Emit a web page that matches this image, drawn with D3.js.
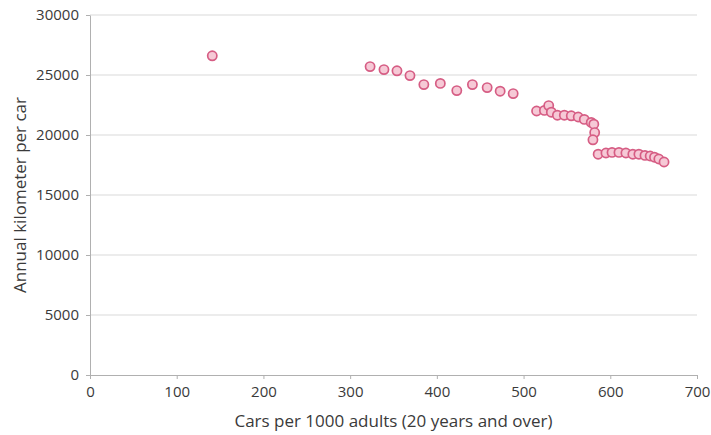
<!DOCTYPE html>
<html>
<head>
<meta charset="utf-8">
<script src="https://cdn.jsdelivr.net/npm/d3@7/dist/d3.min.js"></script>
<style>
  html, body { margin: 0; padding: 0; background: #ffffff; }
  svg { display: block; }
  text { font-family: "Open Sans", sans-serif; fill: #3a3a3a; }
</style>
</head>
<body>
<svg id="chart" width="711" height="435"></svg>
<script>
// ---- data ----
const carsPerThousand = [141, 323, 339, 354, 369, 385, 404, 423, 441, 458, 473, 488,
  515, 524, 529, 532, 539, 547, 555, 563, 570, 578, 581, 582, 580,
  586, 595, 602, 610, 618, 626, 633, 640, 646, 651, 656, 662];
const kmPerCar = [26600, 25700, 25450, 25350, 24950, 24200, 24300, 23700, 24200, 23950, 23650, 23450,
  22000, 22050, 22450, 21900, 21650, 21650, 21600, 21500, 21300, 21050, 20900, 20200, 19600,
  18400, 18500, 18550, 18550, 18500, 18400, 18400, 18300, 18250, 18150, 18000, 17750];
const xTickValues = [0, 100, 200, 300, 400, 500, 600, 700];
const yTickValues = [0, 5000, 10000, 15000, 20000, 25000, 30000];
const xTitle = "Cars per 1000 adults (20 years and over)";
const yTitle = "Annual kilometer per car";

const points = carsPerThousand.map((c, i) => ({ x: c, y: kmPerCar[i] }));

// ---- layout ----
const svg = d3.select("#chart");
const x = d3.scaleLinear().domain([0, 700]).range([90, 697]);
const y = d3.scaleLinear().domain([0, 30000]).range([375, 15]);

// gridlines
svg.append("g").selectAll("line")
  .data(yTickValues.filter(v => v > 0))
  .join("line")
  .attr("x1", x(0)).attr("x2", x(700))
  .attr("y1", d => y(d)).attr("y2", d => y(d))
  .attr("stroke", "#d9d9d9").attr("stroke-width", 1);

// x axis
const gx = svg.append("g").attr("transform", `translate(0,${y(0)})`)
  .call(d3.axisBottom(x).tickValues(xTickValues).tickFormat(d3.format("d"))
    .tickSizeInner(4).tickSizeOuter(0).tickPadding(7));
gx.select(".domain").attr("stroke", "#b0b0b0");
gx.selectAll(".tick line").attr("stroke", "#b0b0b0");
gx.selectAll(".tick text").attr("font-size", 15).style("font-family", "'Open Sans', sans-serif").attr("fill", "#3a3a3a");

// y axis
const gy = svg.append("g").attr("transform", `translate(${x(0)},0)`)
  .call(d3.axisLeft(y).tickValues(yTickValues).tickFormat(d3.format("d"))
    .tickSizeInner(4).tickSizeOuter(0).tickPadding(7));
gy.select(".domain").attr("stroke", "#b0b0b0");
gy.selectAll(".tick line").attr("stroke", "#b0b0b0");
gy.selectAll(".tick text").attr("font-size", 15).style("font-family", "'Open Sans', sans-serif").attr("fill", "#3a3a3a");

// titles
svg.append("text")
  .attr("x", (x(0) + x(700)) / 2).attr("y", 427)
  .attr("text-anchor", "middle").attr("font-size", 17)
  .text(xTitle);
svg.append("text")
  .attr("transform", `translate(26,${(y(0) + y(30000)) / 2}) rotate(-90)`)
  .attr("text-anchor", "middle").attr("font-size", 17)
  .text(yTitle);

// points
svg.append("g").selectAll("circle")
  .data(points)
  .join("circle")
  .attr("cx", d => x(d.x)).attr("cy", d => y(d.y))
  .attr("r", 4.6)
  .attr("fill", "#f6c9d6")
  .attr("stroke", "#d65d84")
  .attr("stroke-width", 1.7);
</script>
</body>
</html>
